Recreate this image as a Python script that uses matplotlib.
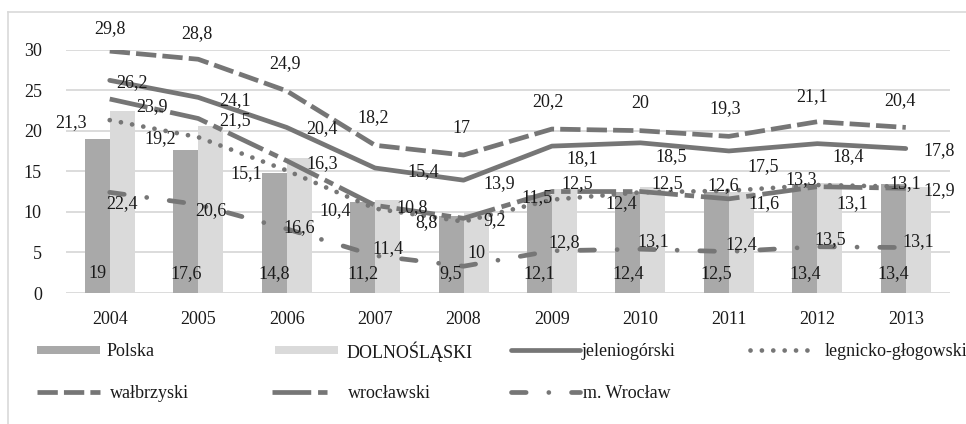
import matplotlib
matplotlib.use('Agg')
import matplotlib.pyplot as plt
from matplotlib.lines import Line2D
from matplotlib.patches import Rectangle
import numpy as np

years = ['2004', '2005', '2006', '2007', '2008', '2009', '2010', '2011', '2012', '2013']

polska = [19, 17.6, 14.8, 11.2, 9.5, 12.1, 12.4, 12.5, 13.4, 13.4]
dolnoslaski = [22.4, 20.6, 16.6, 11.4, 10, 12.8, 13.1, 12.4, 13.5, 13.1]
jeleniogorski = [26.2, 24.1, 20.4, 15.4, 13.9, 18.1, 18.5, 17.5, 18.4, 17.8]
legnicko_glogowski = [21.3, 19.2, 15.1, 10.4, 8.8, 11.5, 12.4, 12.6, 13.3, 13.1]
walbrzyski = [29.8, 28.8, 24.9, 18.2, 17, 20.2, 20, 19.3, 21.1, 20.4]
wroclawski = [23.9, 21.5, 16.3, 10.8, 9.2, 12.5, 12.5, 11.6, 13.1, 12.9]
m_wroclaw = [12.4, 10.9, 7.9, 4.6, 3.3, 5.2, 5.4, 5.1, 5.7, 5.6]

W, H = 966, 424
BAR_COL = {'Polska': '#a9a9a9', 'DOLNOŚLĄSKI': '#dadada'}
LINE_COL = '#767676'
TXT = '#1a1a1a'
FS = 13
LW = 3.4
TY = 1.5  # matplotlib centres on the full text box, digits sit a bit high
plt.rcParams['font.family'] = ['Liberation Serif', 'DejaVu Serif']

# line look for every series
styles = {
    'jeleniogórski': dict(linestyle='-', solid_capstyle='round'),
    'legnicko-głogowski': dict(linestyle=(0, (0.01, 2.4)), dash_capstyle='round'),
    'wałbrzyski': dict(linestyle=(0, (4.3, 1.3)), dash_capstyle='butt'),
    'wrocławski': dict(linestyle=(0, (8.2, 1.45, 2, 1.45)), dash_capstyle='butt'),
    'm. Wrocław': dict(linestyle=(0, (3.1, 4.8, 0.01, 4.8)), dash_capstyle='round'),
}

# label offsets in pixels (dx right, dy down), placed by hand in the original
label_off = {
    'wałbrzyski': [(0, -24), (-1, -27), (-2, -29), (-2, -29), (-2, -28),
                   (-4, -29), (0, -29), (-4, -29), (-5, -27), (-6, -28)],
    'jeleniogórski': [(22, 1), (37, 2), (35, 0), (48, 2), (36, 2),
                      (30, 11), (31, 12), (34, 14), (31, 11), (33, 1)],
    'wrocławski': [(42, 6), (37, 1), (36, 1), (37, 1), (31, 1),
                   (25, -9), (27, -9), (35, 3), (35, 15), (33, 1)],
    'legnicko-głogowski': [(-39, 1), (-38, 0), (-40, 2), (-40, 1), (-37, 0),
                           (-15, -4), (-19, 10), (-6, -7), (-16, -7), (0, -5)],
}

lines = [
    ('jeleniogórski', jeleniogorski),
    ('legnicko-głogowski', legnicko_glogowski),
    ('wałbrzyski', walbrzyski),
    ('wrocławski', wroclawski),
    ('m. Wrocław', m_wroclaw),
]


def fmt(v):
    return f'{v:g}'.replace('.', ',')


def fx(px):
    return px / W


def fy(py):
    return 1 - py / H


fig = plt.figure(figsize=(W / 100, H / 100), dpi=100)

# outer chart frame (runs off right and bottom edges)
fig.add_artist(Line2D([fx(8), fx(W + 5)], [fy(12), fy(12)], color='#d9d9d9', lw=1.2))
fig.add_artist(Line2D([fx(8), fx(8)], [fy(12), fy(H + 5)], color='#d9d9d9', lw=1.2))

ax = fig.add_axes([fx(65.5), fy(293), (950 - 65.5) / W, (293 - 49.5) / H])
x = np.arange(len(years))
bw = 0.2826

ax.bar(x - bw / 2, polska, bw, color=BAR_COL['Polska'], zorder=2)
ax.bar(x + bw / 2, dolnoslaski, bw, color=BAR_COL['DOLNOŚLĄSKI'], zorder=2)

for name, vals in lines:
    ax.plot(x, vals, color=LINE_COL, lw=LW, zorder=3, **styles[name])

# bar labels
for i in range(len(years)):
    ax.annotate(fmt(polska[i]), (x[i] - bw / 2, 0), xytext=(0, 21 - TY), textcoords='offset pixels',
                ha='center', va='center', fontsize=FS, color=TXT, zorder=5)
    ax.annotate(fmt(dolnoslaski[i]), (x[i] + bw / 2, dolnoslaski[i] / 2), xytext=(0, -TY),
                textcoords='offset pixels', ha='center', va='center', fontsize=FS, color=TXT, zorder=5)

for name, vals in lines:
    if name not in label_off:
        continue
    for i, v in enumerate(vals):
        dx, dy = label_off[name][i]
        ax.annotate(fmt(v), (x[i], v), xytext=(dx, -dy - TY), textcoords='offset pixels',
                    ha='center', va='center', fontsize=FS, color=TXT, zorder=5,
                    annotation_clip=False)

ax.set_xlim(-0.5, len(years) - 0.5)
ax.set_ylim(0, 30)
ax.set_yticks(range(0, 31, 5))
ax.set_xticks(x)
ax.set_xticklabels(years)
ax.yaxis.grid(True, color='#d9d9d9', lw=1.3, zorder=0)
ax.set_axisbelow(True)
for s in ax.spines.values():
    s.set_visible(False)
ax.tick_params(axis='both', length=0, labelsize=FS, colors=TXT)
ax.tick_params(axis='y', pad=17)
ax.tick_params(axis='x', pad=13)

# legend, drawn by hand in Excel's 4 column grid
leg_rows = [350, 392]
legend = [
    ('Polska', 0, 37, 100, 107),
    ('DOLNOŚLĄSKI', 0, 275, 338, 347),
    ('jeleniogórski', 0, 511, 580, 582),
    ('legnicko-głogowski', 0, 750, 813, 825),
    ('wałbrzyski', 1, 37, 100, 110),
    ('wrocławski', 1, 272, 333, 348),
    ('m. Wrocław', 1, 511, 580, 583),
]
for name, row, x0, x1, tx in legend:
    yy = leg_rows[row]
    if name in BAR_COL:
        fig.add_artist(Rectangle((fx(x0), fy(yy + 4)), (x1 - x0) / W, 8 / H,
                                 transform=fig.transFigure, color=BAR_COL[name], lw=0))
    else:
        fig.add_artist(Line2D([fx(x0), fx(x1)], [fy(yy), fy(yy)], color=LINE_COL, lw=LW,
                              transform=fig.transFigure, **styles[name]))
    fig.text(fx(tx), fy(yy + TY), name, ha='left', va='center', fontsize=FS, color=TXT)

fig.savefig('out.png', dpi=100)
